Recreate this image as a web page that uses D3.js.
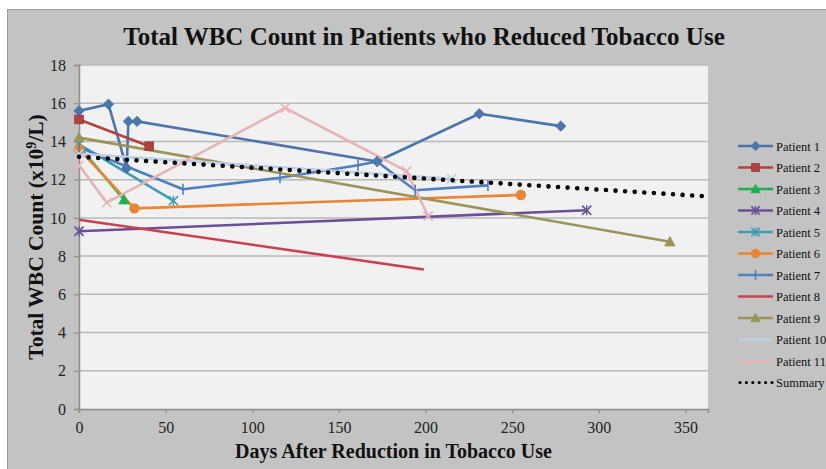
<!DOCTYPE html>
<html>
<head>
<meta charset="utf-8">
<script src="https://cdn.jsdelivr.net/npm/d3@7"></script>
<style>
  html, body { margin: 0; padding: 0; background: #ffffff; }
  svg { display: block; }
  text { font-family: "Liberation Serif", "Times New Roman", serif; }
</style>
</head>
<body>
<svg id="chart" width="826" height="469"></svg>
<script>
// Days after reduction and WBC counts (x10^9/L) for each patient
const patientNames = ["Patient 1","Patient 2","Patient 3","Patient 4","Patient 5","Patient 6",
                      "Patient 7","Patient 8","Patient 9","Patient 10","Patient 11"];
const days1 = [0, 17, 27.5, 28.5, 33.5, 172, 231, 278];
const wbc1  = [15.6, 15.95, 12.6, 15.05, 15.05, 12.95, 15.45, 14.8];
const days2 = [0, 40.5];
const wbc2  = [15.15, 13.75];
const days3 = [0, 26];
const wbc3  = [13.75, 10.95];
const days4 = [0, 293];
const wbc4  = [9.3, 10.4];
const days5 = [0, 54.5];
const wbc5  = [13.85, 10.9];
const days6 = [0, 32, 255];
const wbc6  = [13.6, 10.5, 11.2];
const days7 = [0, 60, 116, 161, 172, 194, 236];
const wbc7  = [13.7, 11.5, 12.1, 12.75, 12.95, 11.45, 11.7];
const days8 = [0, 199];
const wbc8  = [9.9, 7.3];
const days9 = [0, 341];
const wbc9  = [14.2, 8.75];
const days10 = [0, 215];
const wbc10  = [13.35, 12.05];
const days11 = [0, 16, 119, 189, 201.5];
const wbc11  = [12.75, 10.8, 15.75, 12.45, 10.1];
const summaryDays = [0, 363];
const summaryWbc  = [13.2, 11.12];

const xTicks = [0, 50, 100, 150, 200, 250, 300, 350];
const yTicks = [0, 2, 4, 6, 8, 10, 12, 14, 16, 18];

const seriesColors = ["#4a75ad", "#b0433f", "#1fae4c", "#6a4f98", "#3f9cb4", "#ea8535",
                      "#4f7fbf", "#c9404f", "#9a9456", "#bdd0e8", "#e7b4b6"];
const seriesMarkers = ["diamond", "square", "triangle", "star", "star", "circle",
                       "plus", "none", "triangle", "cross", "cross"];

const allDays = [days1, days2, days3, days4, days5, days6, days7, days8, days9, days10, days11];
const allWbc  = [wbc1, wbc2, wbc3, wbc4, wbc5, wbc6, wbc7, wbc8, wbc9, wbc10, wbc11];
const series = patientNames.map((name, i) => ({
  name, color: seriesColors[i], marker: seriesMarkers[i],
  points: allDays[i].map((d, j) => ({ x: d, y: allWbc[i][j] }))
}));
const summary = summaryDays.map((d, j) => ({ x: d, y: summaryWbc[j] }));

const svg = d3.select("#chart");

// chart area frame
svg.append("rect").attr("x", 7.5).attr("y", 9.5).attr("width", 830).attr("height", 470)
  .attr("fill", "#c3c3c3").attr("stroke", "#9a9a9a").attr("stroke-width", 1);

const plot = { left: 79, right: 708, top: 65, bottom: 409 };
const x = d3.scaleLinear().domain([0, 363]).range([plot.left, plot.right]);
const y = d3.scaleLinear().domain([0, 18]).range([plot.bottom, plot.top]);

// plot background
svg.append("rect").attr("x", plot.left).attr("y", plot.top)
  .attr("width", plot.right - plot.left).attr("height", plot.bottom - plot.top)
  .attr("fill", "#f1f1f1");

// horizontal gridlines
svg.append("g").selectAll("line").data(yTicks.filter(t => t > 0)).join("line")
  .attr("x1", plot.left).attr("x2", plot.right)
  .attr("y1", d => y(d)).attr("y2", d => y(d))
  .attr("stroke", "#b9b9b9").attr("stroke-width", 1.5);

// axes
const xAxis = d3.axisBottom(x).tickValues(xTicks).tickSizeOuter(0).tickSize(4).tickPadding(9);
const yAxis = d3.axisLeft(y).tickValues(yTicks).tickSizeOuter(0).tickSize(5).tickPadding(8);
const gx = svg.append("g").attr("transform", `translate(0,${plot.bottom})`).call(xAxis);
const gy = svg.append("g").attr("transform", `translate(${plot.left},0)`).call(yAxis);
[gx, gy].forEach(g => {
  g.select(".domain").attr("stroke", "#8c8c8c").attr("stroke-width", 1.5);
  g.selectAll(".tick line").attr("stroke", "#8c8c8c").attr("stroke-width", 1.2);
  g.selectAll(".tick text").attr("fill", "#222").attr("font-size", 16)
    .attr("font-family", "Liberation Serif, Times New Roman, serif");
});

// series lines
const line = d3.line().x(d => x(d.x)).y(d => y(d.y));
const linesG = svg.append("g");
series.forEach(s => {
  linesG.append("path").datum(s.points).attr("d", line)
    .attr("fill", "none").attr("stroke", s.color).attr("stroke-width", 2.6)
    .attr("stroke-linejoin", "round");
});

function drawMarker(g, type, cx, cy, color, scale) {
  const k = scale || 1;
  if (type === "diamond") {
    const r = 5.2 * k;
    g.append("path").attr("d", `M${cx},${cy - r}L${cx + r},${cy}L${cx},${cy + r}L${cx - r},${cy}Z`)
      .attr("fill", color).attr("stroke", color).attr("stroke-width", 0.8);
  } else if (type === "square") {
    const r = 4.3 * k;
    g.append("rect").attr("x", cx - r).attr("y", cy - r).attr("width", 2 * r).attr("height", 2 * r)
      .attr("fill", color).attr("stroke", d3.color(color).darker(0.5)).attr("stroke-width", 0.8);
  } else if (type === "triangle") {
    const r = 5.2 * k;
    g.append("path").attr("d", `M${cx},${cy - r}L${cx + r},${cy + r * 0.8}L${cx - r},${cy + r * 0.8}Z`)
      .attr("fill", color).attr("stroke", color).attr("stroke-width", 0.8);
  } else if (type === "circle") {
    g.append("circle").attr("cx", cx).attr("cy", cy).attr("r", 5.2 * k).attr("fill", color);
  } else if (type === "star" || type === "cross") {
    const r = 4.6 * k;
    g.append("path").attr("d", `M${cx - r},${cy - r}L${cx + r},${cy + r}M${cx - r},${cy + r}L${cx + r},${cy - r}`)
      .attr("stroke", color).attr("stroke-width", 1.6);
    if (type === "star") {
      g.append("path").attr("d", `M${cx},${cy - r * 1.1}L${cx},${cy + r * 1.1}`)
        .attr("stroke", color).attr("stroke-width", 1.4);
    }
  } else if (type === "plus") {
    const r = 5.5 * k;
    g.append("path").attr("d", `M${cx},${cy - r}L${cx},${cy + r}`)
      .attr("stroke", color).attr("stroke-width", 1.6);
  }
}

// series markers
const markersG = svg.append("g");
series.forEach(s => {
  s.points.forEach(p => drawMarker(markersG, s.marker, x(p.x), y(p.y), s.color));
});

// summary dotted line
svg.append("path").datum(summary).attr("d", line)
  .attr("fill", "none").attr("stroke", "#000").attr("stroke-width", 4.6)
  .attr("stroke-linecap", "round").attr("stroke-dasharray", "0 9.6");

// title
svg.append("text").attr("x", 424).attr("y", 45).attr("text-anchor", "middle")
  .attr("font-size", 25).attr("font-weight", "bold").attr("fill", "#111")
  .text("Total WBC Count in Patients who Reduced Tobacco Use");

// x axis title
svg.append("text").attr("x", 393.5).attr("y", 458).attr("text-anchor", "middle")
  .attr("font-size", 20).attr("font-weight", "bold").attr("fill", "#111")
  .text("Days After Reduction in Tobacco Use");

// y axis title
const yTitle = svg.append("text")
  .attr("transform", `translate(43,${(plot.top + plot.bottom) / 2}) rotate(-90)`)
  .attr("text-anchor", "middle").attr("font-size", 21.5).attr("font-weight", "bold").attr("fill", "#111");
yTitle.append("tspan").text("Total WBC Count (x10");
yTitle.append("tspan").attr("baseline-shift", "super").attr("font-size", 14).text("9");
yTitle.append("tspan").text("/L)");

// legend
const legend = svg.append("g");
const legendItems = series.concat([{ name: "Summary", color: "#000", marker: "summary" }]);
legendItems.forEach((s, i) => {
  const ly = 146 + i * 21.5;
  if (s.marker === "summary") {
    legend.append("line").attr("x1", 740).attr("x2", 772).attr("y1", ly).attr("y2", ly)
      .attr("stroke", "#000").attr("stroke-width", 3.2).attr("stroke-linecap", "round")
      .attr("stroke-dasharray", "0 6.4");
  } else {
    legend.append("line").attr("x1", 738).attr("x2", 773).attr("y1", ly).attr("y2", ly)
      .attr("stroke", s.color).attr("stroke-width", 2.6);
    if (s.marker !== "cross") drawMarker(legend, s.marker, 755.5, ly, s.color, 0.9);
  }
  legend.append("text").attr("x", 776).attr("y", ly + 4.5)
    .attr("font-size", 12.5).attr("fill", "#111").text(s.name);
});
</script>
</body>
</html>
